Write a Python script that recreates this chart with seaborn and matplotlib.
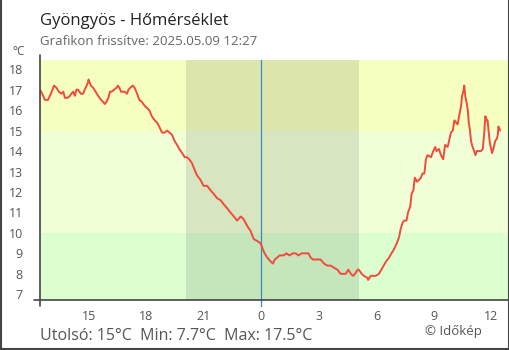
import matplotlib
matplotlib.use("Agg")
import matplotlib.pyplot as plt
import matplotlib.dates as mdates
from matplotlib.lines import Line2D
from matplotlib.ticker import FuncFormatter
import seaborn as sns
import pandas as pd

# Station readings, 24 hours ending at the last refresh
start_day = "2025-05-08"
times = [
    "12:27", "12:37", "12:42", "12:52", "13:01", "13:11", "13:18", "13:26", "13:34", "13:40",
    "13:45", "13:53", "14:01", "14:05", "14:11", "14:16", "14:21", "14:26", "14:35", "14:42",
    "14:47", "14:56", "14:59", "15:06", "15:13", "15:21", "15:29", "15:38", "15:45", "15:50",
    "15:55", "16:01", "16:06", "16:11", "16:19", "16:27", "16:31", "16:35", "16:41", "16:52",
    "16:59", "17:04", "17:10", "17:17", "17:23", "17:31", "17:38", "17:46", "17:55", "18:02",
    "18:09", "18:17", "18:26", "18:33", "18:40", "18:49", "18:57", "19:05", "19:12", "19:20",
    "19:28", "19:36", "19:43", "19:52", "20:00", "20:07", "20:14", "20:23", "20:28", "20:33",
    "20:39", "20:49", "20:59", "21:10", "21:20", "21:31", "21:41", "21:52", "22:02", "22:13",
    "22:23", "22:34", "22:44", "22:55", "23:03", "23:10", "23:17", "23:26", "23:31", "23:36",
    "23:47", "23:57", "00:02", "00:10", "00:18", "00:29", "00:36", "00:42", "00:50", "00:57",
    "01:10", "01:18", "01:28", "01:38", "01:47", "01:56", "02:06", "02:16", "02:27", "02:34",
    "02:41", "02:50", "02:58", "03:05", "03:16", "03:26", "03:37", "03:47", "03:58", "04:08",
    "04:16", "04:24", "04:32", "04:40", "04:47", "04:53", "05:01", "05:05", "05:14", "05:21",
    "05:32", "05:34", "05:42", "05:58", "06:08", "06:19", "06:30", "06:40", "06:47", "06:55",
    "07:04", "07:11", "07:16", "07:22", "07:27", "07:34", "07:39", "07:46", "07:50", "07:56",
    "08:00", "08:07", "08:14", "08:19", "08:24", "08:30", "08:35", "08:40", "08:51", "08:58",
    "09:04", "09:08", "09:16", "09:22", "09:29", "09:35", "09:43", "09:46", "09:53", "09:59",
    "10:04", "10:09", "10:14", "10:19", "10:25", "10:28", "10:32", "10:35", "10:38", "10:43",
    "10:46", "10:49", "10:53", "10:56", "11:01", "11:06", "11:10", "11:14", "11:20", "11:27",
    "11:33", "11:38", "11:41", "11:45", "11:48", "11:51", "11:55", "12:02", "12:06", "12:12",
    "12:17", "12:20", "12:22", "12:25", "12:27",
]
temps = [
    17.0, 16.7, 16.5, 16.5, 16.8, 17.2, 17.1, 16.9, 16.8, 16.9,
    16.6, 16.6, 16.7, 16.8, 16.9, 16.7, 17.0, 17.0, 16.8, 16.8,
    17.0, 17.3, 17.5, 17.2, 17.1, 16.9, 16.7, 16.5, 16.4, 16.3,
    16.4, 16.6, 16.9, 16.9, 17.0, 17.1, 17.2, 17.1, 16.9, 16.9,
    16.8, 17.0, 17.1, 17.2, 17.1, 16.8, 16.5, 16.4, 16.2, 16.1,
    16.0, 15.7, 15.5, 15.4, 15.2, 14.9, 14.9, 15.0, 14.9, 14.8,
    14.5, 14.3, 14.1, 13.9, 13.7, 13.7, 13.6, 13.4, 13.2, 13.0,
    12.8, 12.6, 12.3, 12.3, 12.1, 11.9, 11.7, 11.6, 11.4, 11.2,
    11.0, 10.8, 10.6, 10.8, 10.7, 10.5, 10.3, 10.1, 9.9, 9.7,
    9.6, 9.5, 9.3, 9.0, 8.8, 8.6, 8.5, 8.7, 8.8, 8.9,
    8.9, 9.0, 8.9, 9.0, 9.0, 8.9, 9.0, 9.0, 9.0, 8.8,
    8.7, 8.7, 8.7, 8.7, 8.5, 8.4, 8.4, 8.3, 8.2, 8.0,
    8.0, 8.0, 8.2, 8.0, 7.9, 8.0, 8.2, 8.2, 8.0, 7.9,
    7.8, 7.7, 7.9, 7.9, 8.0, 8.3, 8.6, 8.8, 9.0, 9.2,
    9.5, 9.8, 10.2, 10.5, 10.6, 10.6, 11.0, 11.3, 11.9, 12.1,
    12.7, 12.5, 12.6, 12.7, 12.9, 12.9, 13.6, 13.8, 13.7, 14.0,
    14.2, 14.0, 14.1, 13.8, 13.6, 14.3, 14.2, 14.4, 14.9, 15.0,
    15.5, 15.4, 15.3, 15.7, 16.2, 16.7, 16.9, 17.2, 16.7, 16.3,
    16.0, 15.4, 15.0, 14.5, 14.2, 14.0, 13.8, 14.0, 14.0, 14.0,
    14.1, 15.0, 15.7, 15.5, 15.5, 15.0, 14.4, 13.9, 14.1, 14.5,
    14.6, 14.8, 15.2, 15.1, 15.0,
]
y_ticks = [7, 8, 9, 10, 11, 12, 13, 14, 15, 16, 17, 18]
band_edges = [10, 15]
band_colors = ["#dcffd0", "#f0ffd6", "#f5ffc0"]
sunset, sunrise = "2025-05-08 20:05", "2025-05-09 05:06"
view_end = "2025-05-09 12:55"

# build timestamps, rolling over to the next day after midnight
stamps = []
day = pd.Timestamp(start_day)
prev = None
for t in times:
    hh, mm = map(int, t.split(":"))
    cur = hh * 60 + mm
    if prev is not None and cur < prev:
        day += pd.Timedelta(days=1)
    prev = cur
    stamps.append(day + pd.Timedelta(minutes=cur))
df = pd.DataFrame({"time": stamps, "temp": temps})

sns.set_theme(style="white")
plt.rcParams["font.family"] = ["Open Sans", "DejaVu Sans"]

fig = plt.figure(figsize=(5.1, 3.5), dpi=100)
ax = fig.add_axes([40 / 510, 50 / 350, 469 / 510, 240 / 350])

y_lo, y_hi = 6.72, 18.45
x_lo, x_hi = df["time"].iloc[0], pd.Timestamp(view_end)

# temperature bands
edges = [y_lo] + band_edges + [y_hi]
for lo, hi, c in zip(edges[:-1], edges[1:], band_colors):
    ax.axhspan(lo, hi, color=c, lw=0, zorder=0)
# night shading
ax.axvspan(pd.Timestamp(sunset), pd.Timestamp(sunrise), color="black", alpha=0.1, lw=0, zorder=1)

sns.lineplot(data=df, x="time", y="temp", ax=ax, color="#f24a3c", lw=1.4, zorder=3)

midnight = pd.Timestamp("2025-05-09 00:00")
ax.plot([midnight, midnight], [y_lo - 0.3, y_hi], color="#3a8cc6", lw=0.9, zorder=2, clip_on=False)

ax.set_xlim(x_lo, x_hi)
ax.set_ylim(y_lo, y_hi)
ax.set_xlabel("")
ax.set_ylabel("")

for s in ax.spines.values():
    s.set_visible(False)
axis_col = "#444444"
ax.add_line(Line2D([0, 0], [-0.025, 1.022], transform=ax.transAxes, color=axis_col, lw=1.2, clip_on=False, zorder=4))
ax.add_line(Line2D([-0.013, 1], [0, 0], transform=ax.transAxes, color=axis_col, lw=1.2, clip_on=False, zorder=4))

ax.set_yticks(y_ticks)
ax.xaxis.set_major_locator(mdates.HourLocator(byhour=range(0, 24, 3)))
ax.xaxis.set_major_formatter(FuncFormatter(lambda v, p: str(mdates.num2date(v).hour)))
ax.tick_params(axis="both", direction="inout", length=8.5, width=1.1, color=axis_col,
               labelcolor="#555555", labelsize=9)
ax.tick_params(axis="y", pad=8)
ax.tick_params(axis="x", pad=3)

fig.text(40 / 510, 1 - 25 / 350, "Gyöngyös - Hőmérséklet", fontsize=12, color="#222222")
fig.text(40 / 510, 1 - 45 / 350, "Grafikon frissítve: 2025.05.09 12:27", fontsize=9.5, color="#666666")
fig.text(12 / 510, 1 - 55 / 350, "°C", fontsize=8.5, color="#555555")

last, tmin, tmax = temps[-1], min(temps), max(temps)
fig.text(40 / 510, 1 - 340 / 350, f"Utolsó: {last:g}°C  Min: {tmin:g}°C  Max: {tmax:g}°C",
         fontsize=11.5, color="#555555")
fig.text(425 / 510, 1 - 335 / 350, "© Időkép", fontsize=9.5, color="#555555")

# outer frame
for xs, ys in [([0.001, 0.001], [0, 1]), ([0.998, 0.998], [0, 1]), ([0, 1], [0.002, 0.002])]:
    fig.add_artist(Line2D(xs, ys, transform=fig.transFigure, color="#444444", lw=1.5))

fig.savefig("out.png", dpi=100)
